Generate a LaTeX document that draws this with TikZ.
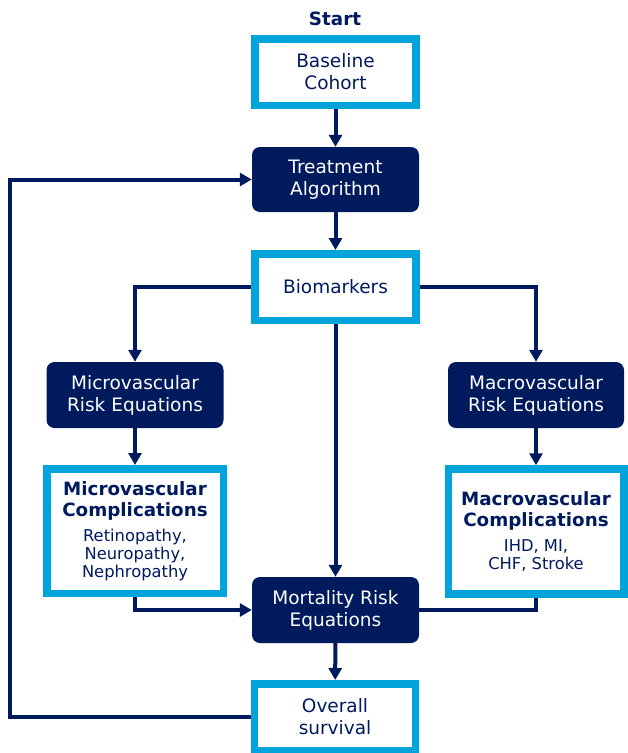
\documentclass[tikz,border=0pt]{standalone}
\usepackage{xcolor}
\usepackage{fontspec}
\setmainfont{DejaVu Sans}
\usepackage{tikz}
\usetikzlibrary{arrows.meta, positioning, shapes}

\definecolor{navy}{RGB}{0,26,94}
\definecolor{skyblue}{RGB}{0,163,218}

\tikzset{
    outlinebox/.style={draw=skyblue, line width=7.5pt, fill=white, text=navy, align=center,
        font=\fontsize{18.5}{22}\selectfont, minimum width=161pt, minimum height=66.5pt, inner sep=0pt},
    solidbox/.style={fill=navy, text=white, rounded corners=8pt, align=center,
        font=\fontsize{18.5}{22}\selectfont, minimum width=167pt, minimum height=66pt, inner sep=0pt},
    flow/.style={draw=navy, line width=4pt},
    flowarrow/.style={flow, -{Triangle[length=12pt, width=13pt]}}
}

\newcommand{\comptitle}[1]{{\bfseries\fontsize{18.3}{23}\selectfont #1}}
\newcommand{\compitem}[1]{{\fontsize{16.3}{18}\selectfont #1}}

\begin{document}
\begin{tikzpicture}[x=1pt, y=-1pt]
    \useasboundingbox (0,0) rectangle (628,753);

    \node[text=navy, font=\bfseries\fontsize{18.3}{22}\selectfont] (start) at (335,19) {Start};
    \node[outlinebox] (baseline) at (335.5,72) {Baseline\\Cohort};
    \node[solidbox, minimum height=65pt] (treatment) at (335.5,179.5) {Treatment\\Algorithm};
    \node[outlinebox] (biomarkers) at (335.5,287) {Biomarkers};
    \node[solidbox, minimum width=177pt] (microrisk) at (135,395) {Microvascular\\Risk Equations};
    \node[solidbox, minimum width=176pt] (macrorisk) at (536,395) {Macrovascular\\Risk Equations};
    \node[outlinebox, minimum width=176.5pt, minimum height=124.5pt] (microcomp) at (135,531)
        {\comptitle{Microvascular}\\[-1pt]\comptitle{Complications}\\[3pt]
         \compitem{Retinopathy,}\\[-4pt]\compitem{Neuropathy,}\\[-4pt]\compitem{Nephropathy}};
    \node[outlinebox, minimum width=175.5pt, minimum height=125pt] (macrocomp) at (536,531.5)
        {\comptitle{Macrovascular}\\[-1pt]\comptitle{Complications}\\[3pt]
         \compitem{IHD, MI,}\\[-4pt]\compitem{CHF, Stroke}};
    \node[solidbox] (mortality) at (335.5,610) {Mortality Risk\\Equations};
    \node[outlinebox] (survival) at (335,717) {Overall\\survival};

    \coordinate (loopcorner) at (9.5,717);

    \draw[flowarrow] (baseline) -- (treatment);
    \draw[flowarrow] (treatment) -- (biomarkers);
    \draw[flowarrow] (biomarkers.west) -| (microrisk.north);
    \draw[flowarrow] (biomarkers.east) -| (macrorisk.north);
    \draw[flowarrow] (biomarkers.south) -- (mortality.north);
    \draw[flowarrow] (microrisk) -- (microcomp);
    \draw[flowarrow] (macrorisk) -- (macrocomp);
    \draw[flowarrow] (microcomp.south) |- (mortality.west);
    \draw[flow] (macrocomp.south) |- (mortality.east);
    \draw[flowarrow] (mortality) -- (survival);
    \draw[flowarrow] (survival.west) -- (loopcorner) |- (treatment.west);
\end{tikzpicture}
\end{document}
